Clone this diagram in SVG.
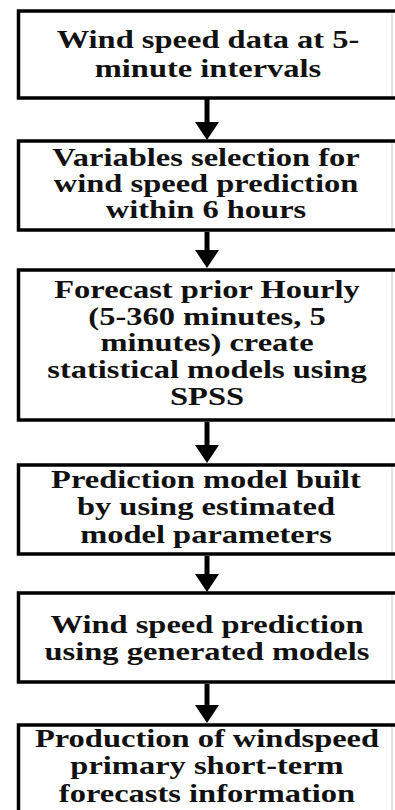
<svg xmlns="http://www.w3.org/2000/svg" width="395" height="810" viewBox="0 0 395 810">
  <style>
    .box { fill: #ffffff; stroke: #000000; stroke-width: 3.5; }
    .edge { stroke: #c8c8c8; stroke-width: 1; }
    .label { font-family: "Liberation Serif", "Times New Roman", serif; font-weight: bold; font-size: 25px; fill: #111111; text-anchor: middle; }
    .shaft { stroke: #000000; stroke-width: 5; }
    .head { fill: #000000; }
  </style>
  <rect x="0" y="0" width="395" height="810" fill="#ffffff"/>

  <g id="connectors">
    <line class="shaft" x1="207" y1="99" x2="207" y2="124"/>
    <polygon class="head" points="195,122 219,122 207,140"/>
    <line class="shaft" x1="207" y1="232" x2="207" y2="252"/>
    <polygon class="head" points="195,250 219,250 207,268"/>
    <line class="shaft" x1="207" y1="422" x2="207" y2="447"/>
    <polygon class="head" points="195,445 219,445 207,463"/>
    <line class="shaft" x1="207" y1="556" x2="207" y2="576"/>
    <polygon class="head" points="195,574 219,574 207,592"/>
    <line class="shaft" x1="207" y1="684" x2="207" y2="707"/>
    <polygon class="head" points="195,705 219,705 207,723"/>
  </g>

  <g id="node1">
    <rect class="box" x="18.5" y="11" width="390" height="87"/>
    <line class="edge" x1="392" y1="13" x2="392" y2="96"/>
    <g transform="translate(208,0) scale(1.3,1)">
      <text class="label" x="0" y="48">Wind speed data at 5-</text>
      <text class="label" x="0" y="77">minute intervals</text>
    </g>
  </g>

  <g id="node2">
    <rect class="box" x="18.5" y="141" width="390" height="89"/>
    <line class="edge" x1="392" y1="143" x2="392" y2="228"/>
    <g transform="translate(206,0) scale(1.3,1)">
      <text class="label" x="0" y="166">Variables selection for</text>
      <text class="label" x="0" y="192">wind speed prediction</text>
      <text class="label" x="0" y="218">within 6 hours</text>
    </g>
  </g>

  <g id="node3">
    <rect class="box" x="18.5" y="270" width="390" height="150"/>
    <line class="edge" x1="392" y1="272" x2="392" y2="418"/>
    <g transform="translate(207,0) scale(1.3,1)">
      <text class="label" x="0" y="298">Forecast prior Hourly</text>
      <text class="label" x="0" y="325">(5-360 minutes, 5</text>
      <text class="label" x="0" y="351">minutes) create</text>
      <text class="label" x="0" y="378">statistical models using</text>
      <text class="label" x="0" y="405">SPSS</text>
    </g>
  </g>

  <g id="node4">
    <rect class="box" x="18.5" y="465" width="390" height="89"/>
    <line class="edge" x1="392" y1="467" x2="392" y2="552"/>
    <g transform="translate(206,0) scale(1.3,1)">
      <text class="label" x="0" y="488">Prediction model built</text>
      <text class="label" x="0" y="515">by using estimated</text>
      <text class="label" x="0" y="543">model parameters</text>
    </g>
  </g>

  <g id="node5">
    <rect class="box" x="18.5" y="593" width="390" height="89"/>
    <line class="edge" x1="392" y1="595" x2="392" y2="680"/>
    <g transform="translate(207,0) scale(1.3,1)">
      <text class="label" x="0" y="633">Wind speed prediction</text>
      <text class="label" x="0" y="660">using generated models</text>
    </g>
  </g>

  <g id="node6">
    <rect class="box" x="18.5" y="725" width="390" height="100"/>
    <line class="edge" x1="392" y1="727" x2="392" y2="810"/>
    <g transform="translate(207,0) scale(1.3,1)">
      <text class="label" x="0" y="747">Production of windspeed</text>
      <text class="label" x="0" y="774">primary short-term</text>
      <text class="label" x="0" y="802">forecasts information</text>
    </g>
  </g>
</svg>
